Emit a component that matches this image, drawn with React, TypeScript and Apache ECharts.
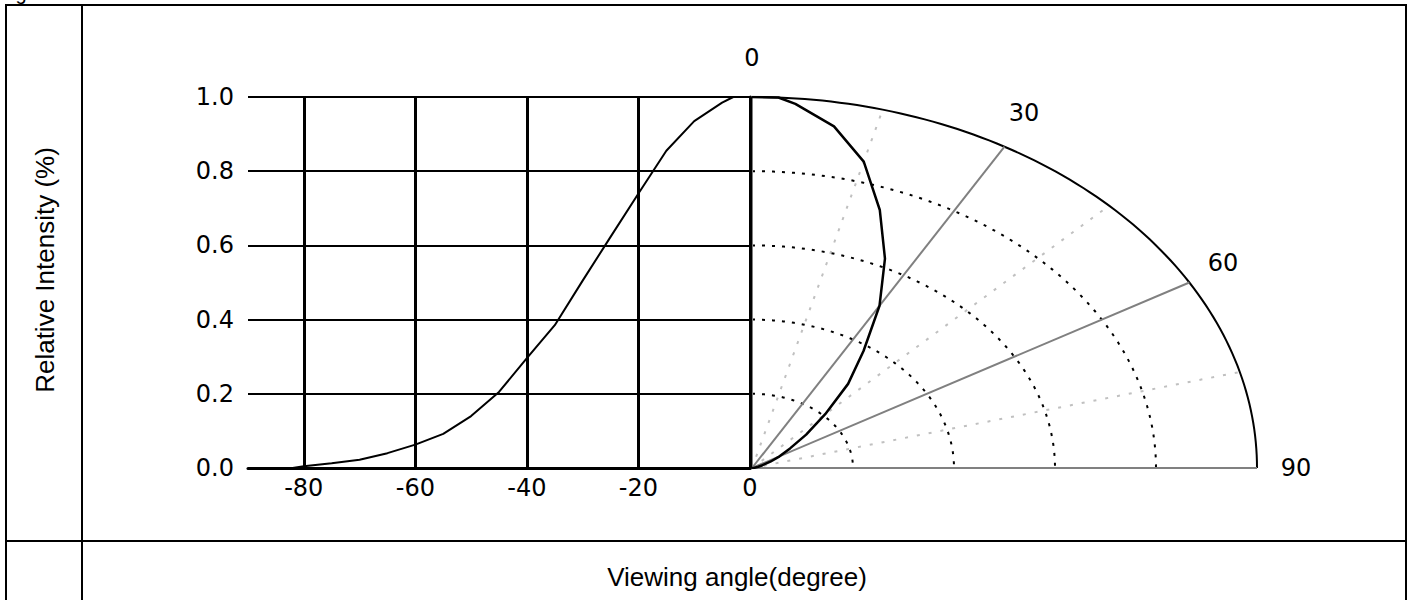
import React, { useEffect, useRef } from "react";
import * as echarts from "echarts";

// Viewing angle (degree) and relative intensity
const angles = [-82, -80, -75, -70, -65, -60, -55, -50, -45, -40, -35, -30, -25, -20, -15, -10, -5, -3, 0];
const intensity = [0.0, 0.005, 0.013, 0.022, 0.04, 0.063, 0.092, 0.14, 0.205, 0.296, 0.385, 0.505, 0.623, 0.74, 0.855, 0.935, 0.985, 1.0, 1.0];

const xGridLines = [-80, -60, -40, -20, 0];
const ringRadii = [0.2, 0.4, 0.6, 0.8];
const solidSpokes = [0, 30, 60, 90];
const dottedSpokes = [15, 45, 75];
const polarLabelAngles = [0, 30, 60, 90];
const polarLabels = ["0", "30", "60", "90"];

const TICK_FONT = "DejaVu Sans";
const TEXT_FONT = "Liberation Sans, Arial";

export default function App() {
  const ref = useRef<HTMLDivElement>(null);

  useEffect(() => {
    if (!ref.current) return;
    const chart = echarts.init(ref.current, null, { renderer: "svg" });
    const rad = (d: number) => (d * Math.PI) / 180;

    const polarCurve = angles.map((a, i) => [
      intensity[i] * Math.sin(rad(Math.abs(a))),
      intensity[i] * Math.cos(rad(Math.abs(a))),
    ]);

    const option: any = {
      animation: false,
      backgroundColor: "#fff",
      grid: [
        { left: 248, top: 97, width: 502, height: 371 },
        { left: 752, top: 97, width: 505, height: 371 },
      ],
      xAxis: [
        {
          gridIndex: 0,
          type: "value",
          min: -90,
          max: 0,
          interval: 10,
          axisLine: { show: true, onZero: false, lineStyle: { color: "#000", width: 3 } },
          axisTick: { show: false },
          splitLine: { show: false },
          axisLabel: {
            margin: 8,
            color: "#000",
            fontFamily: TICK_FONT,
            fontSize: 24,
            formatter: (v: number) => (Math.round(v) % 20 === 0 ? String(Math.round(v)) : ""),
          },
        },
        { gridIndex: 1, type: "value", min: 0, max: 1, show: false },
      ],
      yAxis: [
        {
          gridIndex: 0,
          type: "value",
          min: 0,
          max: 1,
          interval: 0.2,
          axisLine: { show: true, lineStyle: { color: "#000", width: 3 } },
          axisTick: { show: false },
          splitLine: { show: true, lineStyle: { color: "#000", width: 2 } },
          axisLabel: {
            margin: 14,
            color: "#000",
            fontFamily: TICK_FONT,
            fontSize: 24,
            formatter: (v: number) => v.toFixed(1),
          },
        },
        { gridIndex: 1, type: "value", min: 0, max: 1, show: false },
      ],
      series: [
        {
          type: "line",
          xAxisIndex: 0,
          yAxisIndex: 0,
          data: angles.map((a, i) => [a, intensity[i]]),
          symbol: "none",
          lineStyle: { color: "#000", width: 2 },
          z: 5,
          markLine: {
            silent: true,
            symbol: ["none", "none"],
            label: { show: false },
            lineStyle: { color: "#000", width: 3, type: "solid" },
            data: xGridLines.map((x) => ({ xAxis: x })),
          },
        },
        {
          type: "custom",
          xAxisIndex: 1,
          yAxisIndex: 1,
          clip: false,
          silent: true,
          z: 2,
          data: [...ringRadii, 1].map((r) => [r, 0]),
          renderItem: (params: any, api: any) => {
            const r = api.value(0) as number;
            const pts: number[][] = [];
            for (let d = 0; d <= 90; d += 1) {
              pts.push(api.coord([r * Math.sin(rad(d)), r * Math.cos(rad(d))]));
            }
            const outer = r >= 1;
            return {
              type: "polyline",
              shape: { points: pts },
              style: {
                stroke: "#000",
                lineWidth: 2,
                lineDash: outer ? null : [3, 7],
                fill: "none",
              },
            };
          },
        },
        {
          type: "custom",
          xAxisIndex: 1,
          yAxisIndex: 1,
          clip: false,
          silent: true,
          z: 1,
          data: dottedSpokes.map((a) => [a, 0]),
          renderItem: (params: any, api: any) => {
            const a = api.value(0) as number;
            const p0 = api.coord([0, 0]);
            const p1 = api.coord([Math.sin(rad(a)), Math.cos(rad(a))]);
            return {
              type: "line",
              shape: { x1: p0[0], y1: p0[1], x2: p1[0], y2: p1[1] },
              style: { stroke: "#c0c0c0", lineWidth: 2, lineDash: [3, 9] },
            };
          },
        },
        {
          type: "custom",
          xAxisIndex: 1,
          yAxisIndex: 1,
          clip: false,
          silent: true,
          z: 3,
          data: solidSpokes.map((a) => [a, 0]),
          renderItem: (params: any, api: any) => {
            const a = api.value(0) as number;
            const p0 = api.coord([0, 0]);
            const p1 = api.coord([Math.sin(rad(a)), Math.cos(rad(a))]);
            return {
              type: "line",
              shape: { x1: p0[0], y1: p0[1], x2: p1[0], y2: p1[1] },
              style: { stroke: "#808080", lineWidth: 2 },
            };
          },
        },
        {
          type: "line",
          xAxisIndex: 1,
          yAxisIndex: 1,
          data: polarCurve,
          symbol: "none",
          lineStyle: { color: "#000", width: 2.5 },
          z: 6,
        },
        {
          type: "custom",
          xAxisIndex: 1,
          yAxisIndex: 1,
          clip: false,
          silent: true,
          z: 7,
          data: polarLabelAngles.map((a) => [a, 0]),
          renderItem: (params: any, api: any) => {
            const a = api.value(0) as number;
            const p = api.coord([Math.sin(rad(a)), Math.cos(rad(a))]);
            const off = 39;
            return {
              type: "text",
              x: p[0] + off * Math.sin(rad(a)),
              y: p[1] - off * Math.cos(rad(a)),
              style: {
                text: polarLabels[params.dataIndex],
                fill: "#000",
                fontFamily: TICK_FONT,
                fontSize: 24,
                align: "center",
                verticalAlign: "middle",
              },
            };
          },
        },
      ],
      graphic: [
        { type: "line", silent: true, shape: { x1: 5, y1: 5, x2: 1407, y2: 5 }, style: { stroke: "#000", lineWidth: 2 } },
        { type: "line", silent: true, shape: { x1: 6, y1: 5, x2: 6, y2: 600 }, style: { stroke: "#000", lineWidth: 2 } },
        { type: "line", silent: true, shape: { x1: 82, y1: 5, x2: 82, y2: 600 }, style: { stroke: "#000", lineWidth: 2 } },
        { type: "line", silent: true, shape: { x1: 1406, y1: 5, x2: 1406, y2: 600 }, style: { stroke: "#000", lineWidth: 2 } },
        { type: "line", silent: true, shape: { x1: 6, y1: 541, x2: 1406, y2: 541 }, style: { stroke: "#000", lineWidth: 2 } },
        {
          type: "text",
          silent: true,
          x: 21,
          y: -7,
          style: { text: "g", fill: "#000", fontFamily: TEXT_FONT, fontSize: 20, align: "center", verticalAlign: "middle" },
        },
        {
          type: "text",
          silent: true,
          x: 45,
          y: 270,
          rotation: Math.PI / 2,
          style: {
            text: "Relative Intensity (%)",
            fill: "#000",
            fontFamily: TEXT_FONT,
            fontSize: 26,
            align: "center",
            verticalAlign: "middle",
          },
        },
        {
          type: "text",
          silent: true,
          x: 737,
          y: 577,
          style: {
            text: "Viewing angle(degree)",
            fill: "#000",
            fontFamily: TEXT_FONT,
            fontSize: 26,
            align: "center",
            verticalAlign: "middle",
          },
        },
      ],
    };

    chart.setOption(option);
    return () => chart.dispose();
  }, []);

  return (
    <div
      ref={ref}
      style={{ position: "fixed", left: 0, top: 0, width: 1413, height: 600, background: "#fff" }}
    />
  );
}
